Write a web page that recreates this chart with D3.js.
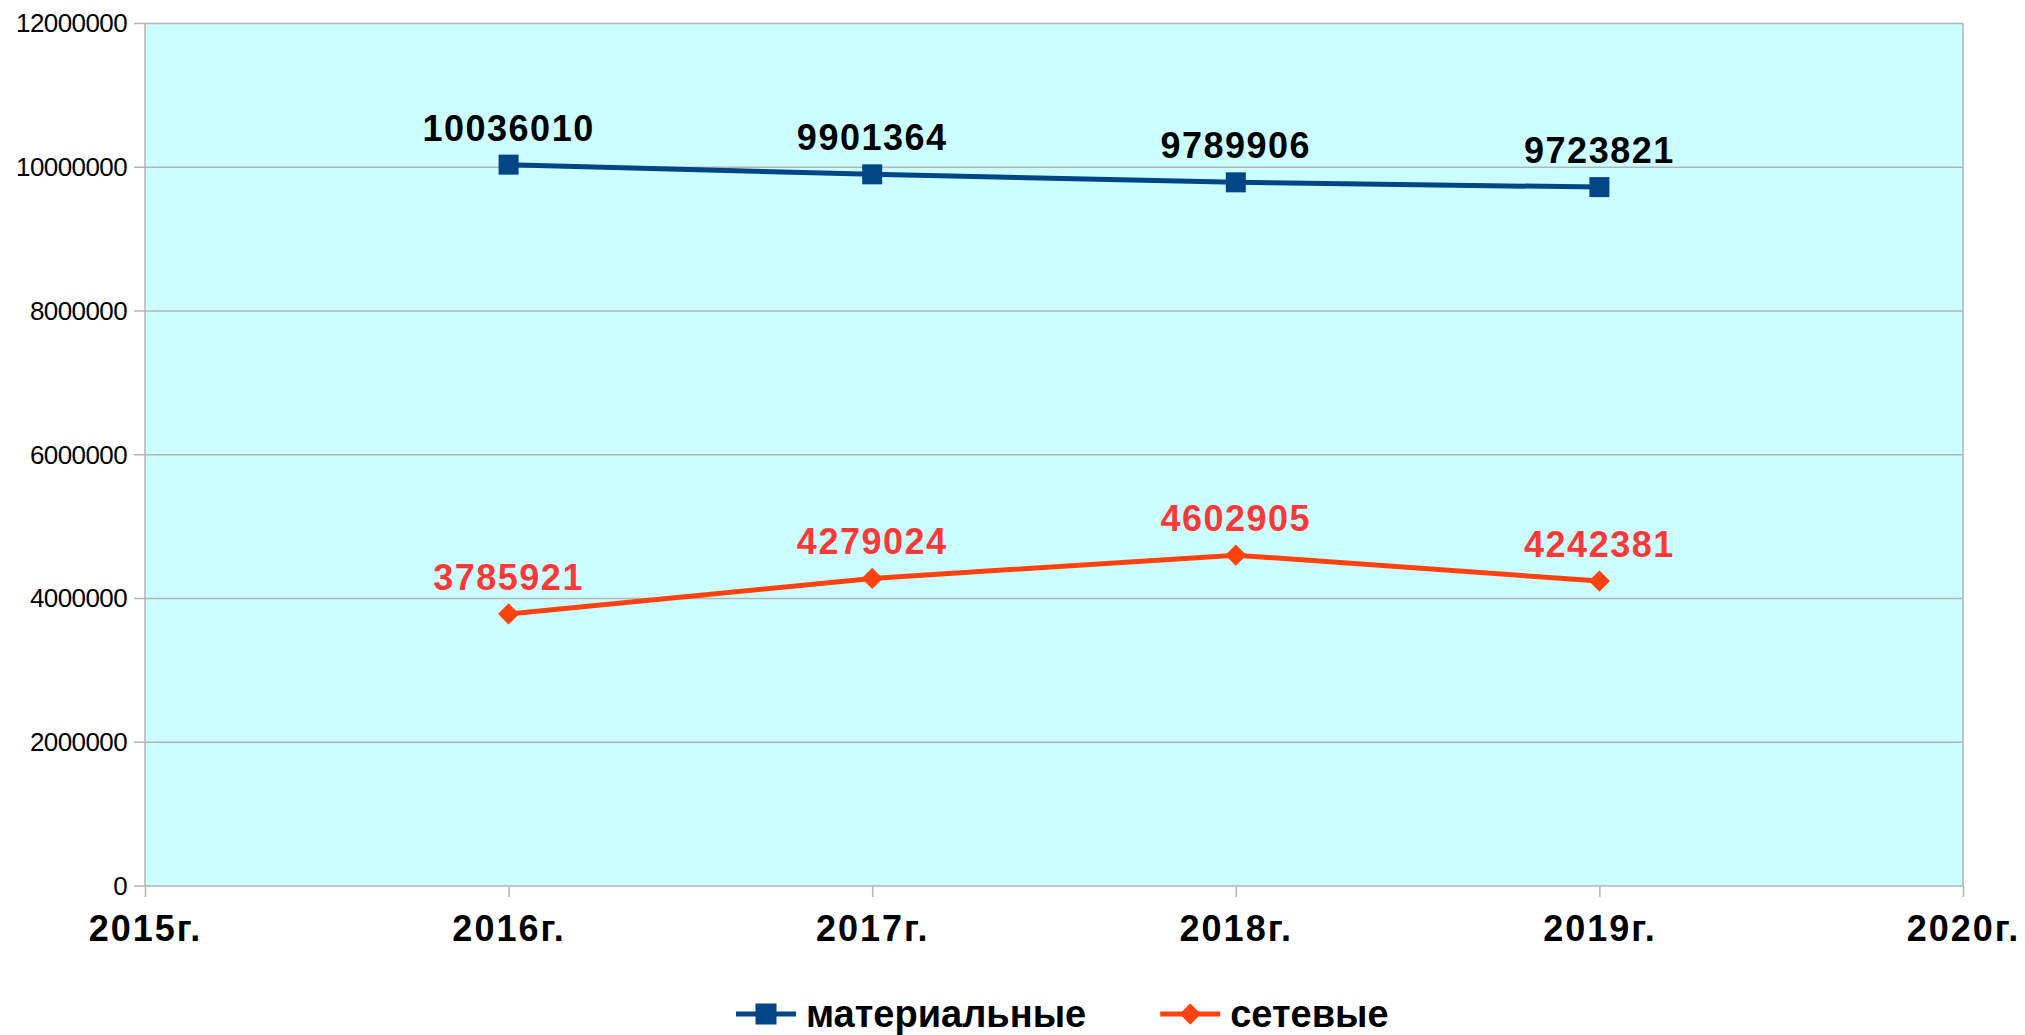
<!DOCTYPE html>
<html lang="ru">
<head>
<meta charset="UTF-8">
<title>материальные / сетевые</title>
<script src="https://cdn.jsdelivr.net/npm/d3@7"></script>
<style>
    body { margin: 0; background: #fff; }
    svg { display: block; font-family: "Liberation Sans", Arial, sans-serif; }
    .y-axis text { font-size: 26px; fill: #000; letter-spacing: -0.6px; }
    .x-axis text { font-size: 36px; font-weight: bold; fill: #000; letter-spacing: 2px; }
    .grid line { stroke: #b3b3b3; stroke-width: 1.5; }
    .lbl { font-size: 36px; font-weight: bold; letter-spacing: 1.5px; }
    .legend text { font-size: 38px; font-weight: bold; }
</style>
</head>
<body>
<svg id="chart" width="2025" height="1035"></svg>
<script>
    // данные
    var years = ["2015г.", "2016г.", "2017г.", "2018г.", "2019г.", "2020г."];
    var seriesYears = ["2016г.", "2017г.", "2018г.", "2019г."];
    var material = [10036010, 9901364, 9789906, 9723821];
    var network = [3785921, 4279024, 4602905, 4242381];
    var yTicks = [0, 2000000, 4000000, 6000000, 8000000, 10000000, 12000000];

    var series = [
        { name: "материальные", values: material, color: "#004586", label: "#000000", marker: "square" },
        { name: "сетевые", values: network, color: "#ff420e", label: "#ff3838", marker: "diamond" }
    ];

    var svg = d3.select("#chart");
    var margin = { top: 23.5, right: 62, bottom: 149, left: 145 },
        width = +svg.attr("width"),
        height = +svg.attr("height");

    var x = d3.scalePoint()
        .domain(years)
        .range([margin.left, width - margin.right]);

    var y = d3.scaleLinear()
        .domain([0, 12000000])
        .range([height - margin.bottom, margin.top]);

    // фон области графика
    svg.append("rect")
        .attr("x", margin.left)
        .attr("y", margin.top)
        .attr("width", width - margin.right - margin.left)
        .attr("height", y(0) - margin.top)
        .attr("fill", "#ccffff");

    // сетка
    svg.append("g")
        .attr("class", "grid")
        .selectAll("line")
        .data(yTicks)
        .enter()
        .append("line")
        .attr("x1", margin.left - 11)
        .attr("x2", width - margin.right)
        .attr("y1", d => y(d))
        .attr("y2", d => y(d));

    svg.append("line")
        .attr("x1", margin.left).attr("x2", margin.left)
        .attr("y1", margin.top).attr("y2", y(0))
        .attr("stroke", "#b3b3b3").attr("stroke-width", 1.5);
    svg.append("line")
        .attr("x1", width - margin.right).attr("x2", width - margin.right)
        .attr("y1", margin.top).attr("y2", y(0))
        .attr("stroke", "#b3b3b3").attr("stroke-width", 1.5);

    // ось Y
    svg.append("g")
        .attr("class", "y-axis")
        .attr("transform", `translate(${margin.left},0)`)
        .call(d3.axisLeft(y).tickValues(yTicks).tickSize(0).tickPadding(18).tickFormat(d3.format("d")))
        .call(g => g.select(".domain").remove());

    // ось X
    svg.append("g")
        .attr("class", "x-axis")
        .attr("transform", `translate(0,${y(0)})`)
        .call(d3.axisBottom(x).tickSize(11).tickPadding(18))
        .call(g => g.select(".domain").remove())
        .call(g => g.selectAll(".tick line").attr("stroke", "#b3b3b3").attr("stroke-width", 1.5));

    var line = d3.line()
        .x((d, i) => x(seriesYears[i]))
        .y(d => y(d));

    function drawMarker(g, type, color, size) {
        if (type === "square") {
            g.append("rect")
                .attr("x", -size / 2).attr("y", -size / 2)
                .attr("width", size).attr("height", size)
                .attr("fill", color);
        } else {
            g.append("path")
                .attr("d", d3.symbol().type(d3.symbolDiamond2).size(size * size * 0.5)())
                .attr("fill", color);
        }
    }

    series.forEach(function(s) {
        svg.append("path")
            .datum(s.values)
            .attr("fill", "none")
            .attr("stroke", s.color)
            .attr("stroke-width", 5)
            .attr("d", line);

        s.values.forEach(function(v, i) {
            var g = svg.append("g")
                .attr("transform", `translate(${x(seriesYears[i])},${y(v)})`);
            drawMarker(g, s.marker, s.color, s.marker === "square" ? 20 : 24);
        });

        svg.append("g")
            .selectAll("text")
            .data(s.values)
            .enter()
            .append("text")
            .attr("class", "lbl")
            .attr("x", (d, i) => x(seriesYears[i]))
            .attr("y", d => y(d) - 24)
            .attr("text-anchor", "middle")
            .attr("fill", s.label)
            .text(d => d);
    });

    // легенда
    var legend = svg.append("g").attr("class", "legend");
    var lx = 736, ly = 1014;
    series.forEach(function(s) {
        var g = legend.append("g").attr("transform", `translate(${lx},${ly})`);
        g.append("line")
            .attr("x1", 0).attr("x2", 60)
            .attr("y1", 0).attr("y2", 0)
            .attr("stroke", s.color).attr("stroke-width", 5);
        var m = g.append("g").attr("transform", "translate(30,0)");
        drawMarker(m, s.marker, s.color, s.marker === "square" ? 21 : 24);
        var t = g.append("text")
            .attr("x", 70)
            .attr("y", 13)
            .text(s.name);
        lx += 70 + t.node().getComputedTextLength() + 74;
    });
</script>
</body>
</html>
